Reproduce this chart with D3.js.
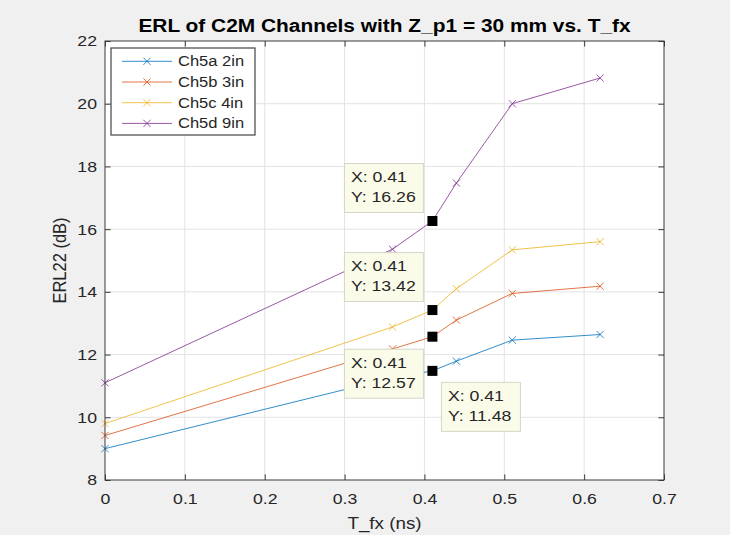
<!DOCTYPE html>
<html>
<head>
<meta charset="utf-8">
<script src="https://cdn.jsdelivr.net/npm/d3@7"></script>
<style>
  html, body { margin: 0; padding: 0; background: #f0f0f0; }
  svg { display: block; }
  text { font-family: "Liberation Sans", Arial, Helvetica, sans-serif; }
</style>
</head>
<body>
<svg id="chart" width="730" height="535"></svg>
<script>
// ---- data ----
const tfx = [0, 0.36, 0.41, 0.44, 0.51, 0.62];
const ch5a = [9.0, 11.26, 11.48, 11.79, 12.46, 12.64];
const ch5b = [9.42, 12.18, 12.57, 13.1, 13.95, 14.18];
const ch5c = [9.8, 12.88, 13.42, 14.1, 15.34, 15.6];
const ch5d = [11.1, 15.36, 16.26, 17.47, 20.0, 20.82];
const seriesNames = ["Ch5a 2in", "Ch5b 3in", "Ch5c 4in", "Ch5d 9in"];
const seriesColors = ["#0072BD", "#D95319", "#EDB120", "#7E2F8E"];
const xTicks = [0, 0.1, 0.2, 0.3, 0.4, 0.5, 0.6, 0.7];
const yTicks = [8, 10, 12, 14, 16, 18, 20, 22];
const titleText = "ERL of C2M Channels with Z_p1 = 30 mm vs. T_fx";
const xLabel = "T_fx (ns)";
const yLabel = "ERL22 (dB)";
// data tips: series index, point index, placement
const tips = [
  { s: 3, i: 2, place: "upleft" },
  { s: 2, i: 2, place: "upleft" },
  { s: 1, i: 2, place: "downleft" },
  { s: 0, i: 2, place: "downright" }
];

const allSeries = [ch5a, ch5b, ch5c, ch5d];

// ---- layout ----
const SX = 1.14; // horizontal text stretch seen in the reference
const svg = d3.select("#chart");
const L = 105, R = 664, T = 41, B = 480;
const x = d3.scaleLinear().domain([0, 0.7]).range([L, R]);
const y = d3.scaleLinear().domain([8, 22]).range([B, T]);
const tickLen = 5.6;

svg.append("rect").attr("x", 0).attr("y", 0).attr("width", 730).attr("height", 535).attr("fill", "#f0f0f0");
svg.append("rect").attr("x", L).attr("y", T).attr("width", R - L).attr("height", B - T).attr("fill", "#ffffff");

// grid
const grid = svg.append("g").attr("stroke", "#e3e3e3").attr("stroke-width", 1);
xTicks.slice(1, -1).forEach(t => {
  grid.append("line").attr("x1", x(t)).attr("x2", x(t)).attr("y1", T).attr("y2", B);
});
yTicks.slice(1, -1).forEach(t => {
  grid.append("line").attr("x1", L).attr("x2", R).attr("y1", y(t)).attr("y2", y(t));
});

// axes
const fmtX = d => d === 0 ? "0" : d3.format(".1f")(d);
const axB = svg.append("g").attr("transform", `translate(0,${B})`)
  .call(d3.axisBottom(x).tickValues(xTicks).tickSizeInner(-tickLen).tickSizeOuter(0).tickPadding(13).tickFormat(fmtX));
const axL = svg.append("g").attr("transform", `translate(${L},0)`)
  .call(d3.axisLeft(y).tickValues(yTicks).tickSizeInner(-tickLen).tickSizeOuter(0).tickPadding(7));
const axT = svg.append("g").attr("transform", `translate(0,${T})`)
  .call(d3.axisTop(x).tickValues(xTicks).tickSizeInner(-tickLen).tickSizeOuter(0).tickFormat(""));
const axR = svg.append("g").attr("transform", `translate(${R},0)`)
  .call(d3.axisRight(y).tickValues(yTicks).tickSizeInner(-tickLen).tickSizeOuter(0).tickFormat(""));
[axB, axL, axT, axR].forEach(a => {
  a.select(".domain").remove();
  a.selectAll(".tick line").attr("stroke", "#3a3a3a").attr("stroke-width", 1);
  a.selectAll(".tick text")
    .attr("fill", "#262626")
    .style("font-size", "15.5px")
    .attr("transform", `scale(${SX},1)`);
});

// series
const line = d3.line().x(d => x(d[0])).y(d => y(d[1]));
const ms = 3.6;
allSeries.forEach((vals, si) => {
  const pts = tfx.map((t, k) => [t, vals[k]]);
  svg.append("path").datum(pts)
    .attr("d", line).attr("fill", "none")
    .attr("stroke", seriesColors[si]).attr("stroke-width", 1).attr("stroke-opacity", 0.8);
  const g = svg.append("g").attr("stroke", seriesColors[si]).attr("stroke-width", 1).attr("stroke-opacity", 0.8);
  pts.forEach(p => {
    const cx = x(p[0]), cy = y(p[1]);
    g.append("path").attr("d", `M${cx - ms},${cy - ms}L${cx + ms},${cy + ms}M${cx - ms},${cy + ms}L${cx + ms},${cy - ms}`);
  });
});

// frame
svg.append("rect").attr("x", L).attr("y", T).attr("width", R - L).attr("height", B - T)
  .attr("fill", "none").attr("stroke", "#3a3a3a").attr("stroke-width", 1);

// data tips
const bw = 79, bh = 49;
tips.forEach(tp => {
  const px = x(tfx[tp.i]), py = y(allSeries[tp.s][tp.i]);
  svg.append("rect").attr("x", px - 5).attr("y", py - 5).attr("width", 10).attr("height", 10).attr("fill", "#000");
  let bx, by;
  if (tp.place === "upleft") { bx = px - 9.5 - bw; by = py - 9 - bh; }
  else if (tp.place === "downleft") { bx = px - 9.5 - bw; by = py + 12; }
  else { bx = px + 8.5; by = py + 11; }
  const g = svg.append("g").attr("transform", `translate(${bx},${by})`);
  g.append("rect").attr("x", 0.5).attr("y", 0.5).attr("width", bw).attr("height", bh)
    .attr("fill", "#fbfbea").attr("stroke", "#d6d6c8").attr("stroke-width", 1);
  const lines = ["X: " + tfx[tp.i].toFixed(2), "Y: " + allSeries[tp.s][tp.i].toFixed(2)];
  lines.forEach((s, k) => {
    g.append("text").attr("transform", `translate(7,${19 + k * 20}) scale(${SX},1)`)
      .style("font-size", "15.5px").attr("fill", "#262626").text(s);
  });
});

// legend
const lg = svg.append("g");
const lgX = 111, lgY = 48, lgW = 144, lgH = 87;
lg.append("rect").attr("x", lgX).attr("y", lgY).attr("width", lgW).attr("height", lgH)
  .attr("fill", "#ffffff").attr("stroke", "#444444").attr("stroke-width", 1.2);
seriesNames.forEach((nm, si) => {
  const ly = lgY + 13.3 + si * 20.7;
  lg.append("line").attr("x1", 122).attr("x2", 172).attr("y1", ly).attr("y2", ly)
    .attr("stroke", seriesColors[si]).attr("stroke-width", 1).attr("stroke-opacity", 0.8);
  const cx = 147;
  lg.append("path").attr("d", `M${cx - ms},${ly - ms}L${cx + ms},${ly + ms}M${cx - ms},${ly + ms}L${cx + ms},${ly - ms}`)
    .attr("stroke", seriesColors[si]).attr("stroke-width", 1).attr("stroke-opacity", 0.8);
  lg.append("text").attr("transform", `translate(178,${ly + 5}) scale(${SX},1)`)
    .style("font-size", "14.5px").attr("fill", "#262626").text(nm);
});

// title & labels
svg.append("text").attr("transform", `translate(${(L + R) / 2},32) scale(1.13,1)`)
  .attr("text-anchor", "middle").style("font-size", "18.5px").style("font-weight", "bold")
  .attr("fill", "#000").text(titleText);
svg.append("text").attr("transform", `translate(${(L + R) / 2},529) scale(${SX},1)`)
  .attr("text-anchor", "middle").style("font-size", "16.5px").attr("fill", "#262626").text(xLabel);
svg.append("text").attr("transform", `translate(66,${(T + B) / 2}) scale(${SX},1) rotate(-90)`)
  .attr("text-anchor", "middle").style("font-size", "16.5px").attr("fill", "#262626").text(yLabel);
</script>
</body>
</html>
